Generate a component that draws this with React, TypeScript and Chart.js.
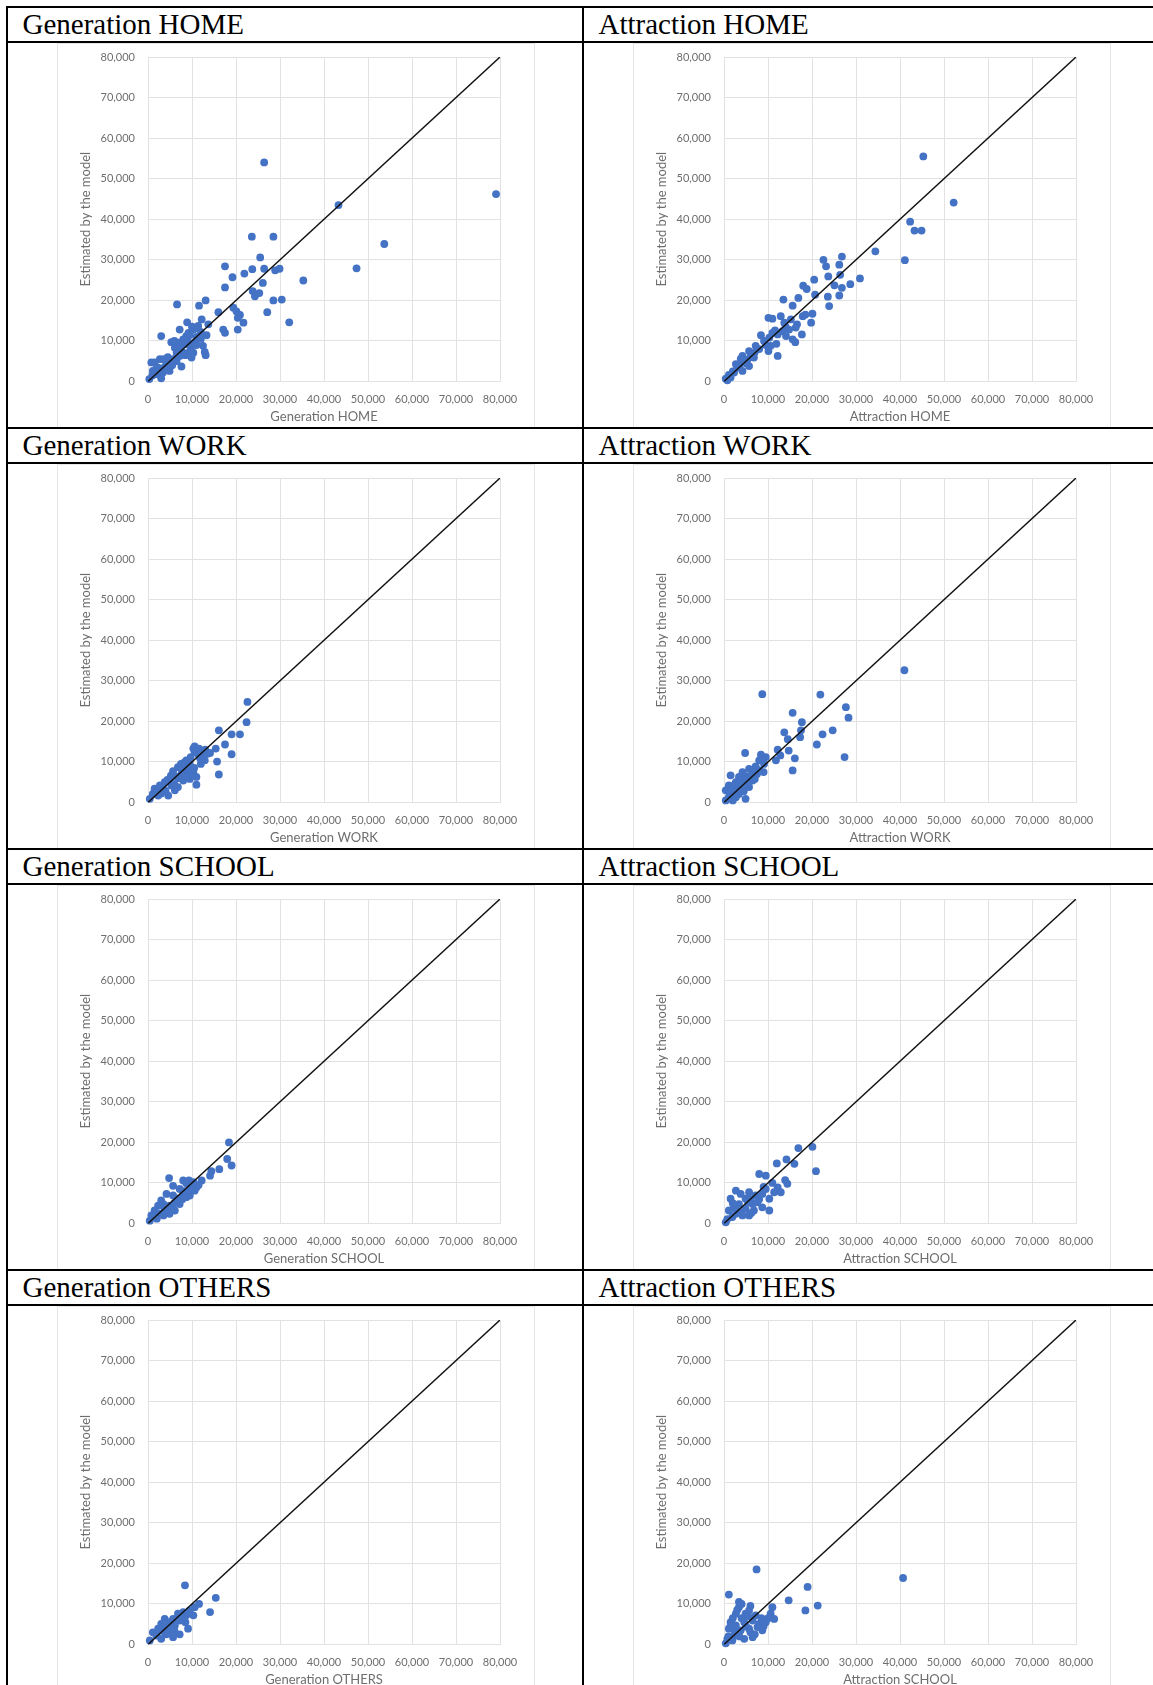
import React, { useEffect, useRef } from "react";
import { Chart, registerables } from "chart.js";

Chart.register(...registerables);

// ---------- data ----------
const tickValues = [0, 10000, 20000, 30000, 40000, 50000, 60000, 70000, 80000];
const diagonal = [0, 80000];

const panelTitles = [
  "Generation HOME", "Attraction HOME",
  "Generation WORK", "Attraction WORK",
  "Generation SCHOOL", "Attraction SCHOOL",
  "Generation OTHERS", "Attraction OTHERS",
];
const xAxisTitles = [
  "Generation HOME", "Attraction HOME",
  "Generation WORK", "Attraction WORK",
  "Generation SCHOOL", "Attraction SCHOOL",
  "Generation OTHERS", "Attraction SCHOOL",
];
const yAxisTitle = "Estimated by the model";

const genHomeObserved = [23600, 28500, 25500, 17500, 23700, 21900, 26400, 28900, 29900, 19200, 35300, 26100, 17500, 23800, 24300, 25300, 28500, 30400, 6600, 11600, 13100, 16000, 19400, 20100, 20900, 27100, 20400, 21700, 32100, 8900, 12200, 13700, 11400, 10300, 7200, 8700, 17100, 17500, 20400, 3000, 13300, 5300, 6800, 8000, 7100, 8400, 9500, 10600, 6100, 12500, 12900, 13100, 10300, 8000, 9900, 7200, 5700, 4200, 2700, 760, 1500, 4900, 7600, 3000, 300, 1100, 2300, 3400, 26400, 43300, 79100, 53700, 47400, 9000, 11000, 7500, 9800, 5000, 6500, 2000, 3800, 12000, 10500, 9200, 4000, 5500, 6500, 8500, 9500, 11000, 12000, 9500, 6000, 2000, 1000, 3500, 4500, 10000];
const genHomeEstimated = [35700, 35700, 30600, 28400, 27700, 26600, 27800, 27400, 27800, 25700, 24900, 24300, 23200, 22300, 21000, 21800, 20000, 20200, 19000, 18700, 20000, 17100, 18200, 17300, 16400, 17100, 15700, 14500, 14600, 14600, 15300, 14100, 13700, 12800, 12800, 11200, 12800, 12000, 12800, 11200, 11400, 9700, 9600, 10400, 8300, 9200, 9200, 9600, 8300, 8800, 7300, 6500, 7100, 7100, 5900, 6300, 5500, 4700, 5500, 4700, 4700, 2600, 3700, 800, 600, 2600, 3400, 2200, 54000, 43500, 46200, 33900, 27900, 10500, 11000, 9000, 8000, 5000, 7000, 1800, 3600, 12200, 13000, 12000, 3000, 4000, 5000, 6500, 7500, 9000, 10500, 11500, 10000, 3500, 1500, 5500, 6000, 13500];

const attrHomeObserved = [34400, 22600, 26800, 23200, 26200, 20500, 23700, 26400, 30900, 18000, 18800, 25100, 26800, 28700, 20700, 23600, 26200, 23900, 13500, 16900, 15600, 10100, 12900, 11000, 13700, 15200, 16600, 17900, 20100, 18500, 19800, 16300, 14800, 13300, 11600, 17700, 16200, 15600, 14100, 12200, 8400, 10300, 9100, 11900, 10100, 12200, 10600, 7200, 5700, 6300, 4200, 3800, 4600, 2700, 5300, 3000, 4200, 2300, 1100, 400, 760, 5700, 6800, 45300, 52200, 42300, 43300, 44900, 41100, 8000, 9500, 7000, 6000, 5000, 3500, 2000, 1500, 11000, 14000];
const attrHomeEstimated = [32100, 30000, 30800, 28400, 28800, 25100, 25900, 26300, 25400, 23600, 22800, 23700, 23100, 24000, 21400, 20900, 21200, 18600, 20200, 20600, 18700, 15700, 16100, 15500, 14500, 15300, 14100, 16100, 16700, 16500, 14500, 13300, 12800, 12400, 12600, 11600, 9700, 10400, 11200, 11600, 11400, 10800, 10000, 9300, 7500, 6300, 8800, 8800, 7500, 6700, 6300, 5600, 4800, 4300, 5300, 3400, 2600, 2200, 1600, 700, 300, 3800, 5900, 55500, 44100, 39400, 37200, 37200, 29900, 8000, 9000, 7200, 6000, 4500, 4000, 2500, 1000, 12000, 13500];

const genWorkObserved = [22600, 22400, 16100, 19000, 20900, 17500, 10600, 11600, 10600, 14100, 15400, 19000, 9700, 11800, 8700, 9500, 15700, 8000, 6800, 5700, 9100, 10300, 7600, 16100, 11000, 9500, 6500, 4900, 3800, 8000, 11000, 2700, 5300, 6800, 1500, 3800, 1100, 4600, 2300, 400, 3000, 6100, 9100, 12900, 10300, 2000, 3300, 4400, 5200, 7200, 8200, 12500, 13000, 6000, 7000, 8500, 9500, 10500, 12000, 11500, 13500, 4000, 3000, 7500];
const genWorkEstimated = [24800, 19800, 17800, 16800, 16800, 14300, 13800, 13300, 12400, 12200, 13300, 11900, 11200, 11000, 10400, 9500, 10100, 8300, 8700, 7700, 8100, 7500, 7100, 6900, 6300, 5800, 6300, 5400, 5000, 5400, 4400, 4200, 4200, 3800, 3400, 3000, 2100, 1700, 1700, 900, 3000, 3000, 6700, 10400, 13300, 2600, 3800, 5600, 6600, 8800, 9800, 11800, 13000, 4500, 6000, 6500, 7200, 8500, 9500, 11800, 12000, 2800, 2200, 9500];

const attrWorkObserved = [8700, 21900, 27700, 28300, 15600, 17700, 17500, 17300, 13700, 14500, 24700, 22400, 21100, 27400, 16100, 15600, 14700, 12200, 12800, 11800, 4800, 8400, 9100, 7200, 5700, 6500, 4200, 1500, 3400, 4900, 2700, 1100, 3800, 5700, 400, 1900, 3400, 1100, 400, 4900, 6500, 2300, 2700, 8000, 9500, 41000, 3000, 5000, 7500, 2000, 1500, 2500, 3500, 5000, 6000, 7000, 8000, 9000, 1500, 2000, 4500];
const attrWorkEstimated = [26700, 26600, 23500, 20900, 22100, 19800, 17800, 16100, 17300, 15600, 17800, 16800, 14300, 11200, 10900, 7900, 12800, 13000, 11600, 10400, 12200, 11800, 9500, 8900, 8300, 7500, 7500, 6700, 6300, 5800, 5000, 4200, 4200, 3800, 3000, 2600, 2100, 1300, 500, 900, 5400, 3800, 1300, 10400, 11200, 32600, 3500, 6500, 7000, 1500, 2200, 4500, 5000, 4500, 6500, 5800, 8000, 7500, 3500, 500, 2800];

const genSchoolObserved = [18400, 18000, 19000, 16200, 14400, 14100, 12200, 4800, 8000, 8700, 9300, 5700, 7200, 9500, 10600, 11000, 4200, 5700, 8000, 8700, 6500, 3000, 2300, 4900, 7200, 3800, 1500, 2700, 760, 4900, 400, 6100, 9500, 10300, 2000, 3500, 6000, 7800, 11500, 5200, 6800, 8200, 9800, 3500, 4500, 1200];
const genSchoolEstimated = [20000, 15900, 14300, 13400, 12900, 11800, 10600, 11200, 10600, 9900, 10600, 9300, 8500, 9100, 8100, 8900, 7300, 6900, 7300, 6500, 5700, 5700, 4400, 4400, 4800, 3600, 3200, 2400, 2000, 2400, 700, 3200, 6900, 10200, 1200, 2000, 5000, 6000, 9500, 3400, 6200, 8000, 8300, 4800, 2800, 1800];

const attrSchoolObserved = [16900, 20100, 12000, 14200, 16000, 20900, 8000, 9500, 13900, 14400, 12200, 11400, 12900, 10300, 10300, 2700, 3800, 5700, 7200, 8700, 4900, 1500, 7600, 6500, 3400, 4900, 2300, 1100, 6800, 2700, 4200, 760, 400, 5700, 8700, 1900, 9500, 11000, 6000, 3000, 5500, 8000, 9000, 2000, 3800, 6200];
const attrSchoolEstimated = [18600, 18900, 14800, 15800, 14700, 12900, 12200, 11800, 10700, 9800, 8900, 7700, 7700, 6100, 3200, 8100, 7300, 7700, 6900, 7300, 6100, 6100, 5200, 4800, 4800, 3600, 4000, 3200, 3200, 2400, 2000, 1100, 300, 2000, 4000, 1600, 8500, 10000, 6000, 3000, 5200, 6000, 9000, 5000, 2800, 2600];

const genOthersObserved = [8400, 15400, 14100, 11600, 10600, 9500, 8000, 6800, 8700, 5700, 7200, 3800, 3000, 4600, 6100, 9100, 2300, 1100, 3800, 7200, 5700, 1900, 400, 3000, 4900, 10300, 2000, 3500, 5000, 6500, 7500, 9000, 4200, 2800, 6000, 8500];
const genOthersEstimated = [14600, 11500, 8000, 10000, 9200, 8400, 8000, 7600, 7200, 6300, 5900, 6300, 5100, 4700, 4700, 3900, 3900, 3000, 3000, 2500, 1800, 2200, 1000, 1400, 3500, 7200, 3000, 4200, 5500, 6000, 6800, 7800, 2500, 3400, 3500, 5500];

const attrOthersObserved = [7400, 19000, 14700, 21300, 18500, 1100, 3400, 3400, 5700, 2700, 11000, 10600, 11400, 9500, 8000, 6500, 1500, 4600, 2700, 1100, 5700, 3800, 8700, 6500, 2300, 760, 400, 4600, 1900, 7600, 7200, 4900, 40700, 2000, 3000, 4000, 5000, 6000, 7000, 2500, 3500, 1500, 9000, 10000, 8500, 5500, 1000, 4000, 6000];
const attrOthersEstimated = [18500, 14200, 10900, 9600, 8400, 12300, 10500, 9200, 8400, 7600, 9200, 7600, 6300, 5500, 5100, 5900, 5500, 5500, 4700, 3900, 3900, 3500, 3500, 1800, 2200, 1400, 300, 1400, 1000, 4300, 7200, 7600, 16400, 6500, 8500, 6500, 4500, 3000, 2500, 3000, 2000, 4500, 4500, 6500, 6500, 7000, 2000, 10000, 9500];

const observedSeries = [genHomeObserved, attrHomeObserved, genWorkObserved, attrWorkObserved, genSchoolObserved, attrSchoolObserved, genOthersObserved, attrOthersObserved];
const estimatedSeries = [genHomeEstimated, attrHomeEstimated, genWorkEstimated, attrWorkEstimated, genSchoolEstimated, attrSchoolEstimated, genOthersEstimated, attrOthersEstimated];

// ---------- layout ----------
const TABLE_LEFT = 7;
const TABLE_TOP = 7;
const COL_W = 576;
const ROW_H = 421;
const TITLE_H = 35;
const CANVAS_W = 478;
const CANVAS_H = 385;

const TICK_COLOR = "#6e6e6e";
const GRID_COLOR = "#e2e2e2";
const FONT_FAMILY = "Lato, 'Open Sans', sans-serif";

function Panel(props: { left: number; top: number; observed: number[]; estimated: number[]; xTitle: string }) {
  const ref = useRef<HTMLCanvasElement | null>(null);
  useEffect(() => {
    if (!ref.current) return;
    const points = props.observed.map((x, i) => ({ x, y: props.estimated[i] }));
    const linePts = diagonal.map((v) => ({ x: v, y: v }));
    const fmt = (v: any) => Number(v).toLocaleString("en-US");
    const chart = new Chart(ref.current, {
      type: "scatter",
      data: {
        datasets: [
          {
            type: "line",
            data: linePts,
            borderColor: "#111111",
            borderWidth: 1.4,
            pointRadius: 0,
            fill: false,
            tension: 0,
            order: 0,
          } as any,
          {
            type: "scatter",
            data: points,
            backgroundColor: "#4472C4",
            borderColor: "#4472C4",
            borderWidth: 0,
            pointRadius: 3.9,
            clip: false,
            order: 1,
          } as any,
        ],
      },
      options: {
        animation: false,
        responsive: false,
        devicePixelRatio: 1,
        layout: { padding: { left: 0, top: 14, right: 35, bottom: 0 } },
        plugins: { legend: { display: false }, tooltip: { enabled: false } },
        scales: {
          x: {
            type: "linear",
            min: tickValues[0],
            max: tickValues[tickValues.length - 1],
            afterBuildTicks: (scale: any) => {
              scale.ticks = tickValues.map((v) => ({ value: v }));
            },
            afterFit: (scale: any) => {
              scale.height = 46.5;
            },
            grid: { color: GRID_COLOR, lineWidth: 1, drawTicks: false },
            border: { display: false },
            ticks: {
              padding: 11,
              color: TICK_COLOR,
              font: { family: FONT_FAMILY, size: 11 },
              callback: fmt,
              maxRotation: 0,
              autoSkip: false,
            },
            title: {
              display: true,
              text: props.xTitle,
              color: TICK_COLOR,
              font: { family: FONT_FAMILY, size: 13 },
              padding: { top: 0, bottom: 3 },
            },
          },
          y: {
            type: "linear",
            min: tickValues[0],
            max: tickValues[tickValues.length - 1],
            afterBuildTicks: (scale: any) => {
              scale.ticks = tickValues.map((v) => ({ value: v }));
            },
            afterFit: (scale: any) => {
              scale.width = 91;
              scale.paddingTop = 0;
              scale.paddingBottom = 0;
            },
            grid: { color: GRID_COLOR, lineWidth: 1, drawTicks: false },
            border: { display: false },
            ticks: {
              padding: 13,
              color: TICK_COLOR,
              font: { family: FONT_FAMILY, size: 11 },
              callback: fmt,
              autoSkip: false,
            },
            title: {
              display: true,
              text: yAxisTitle,
              color: TICK_COLOR,
              font: { family: FONT_FAMILY, size: 13 },
              padding: { top: 21, bottom: 0 },
            },
          },
        },
      } as any,
    });
    return () => chart.destroy();
  }, []);
  return (
    <>
      <canvas
        ref={ref}
        width={CANVAS_W}
        height={CANVAS_H}
        style={{ position: "absolute", left: props.left, top: props.top, width: CANVAS_W, height: CANVAS_H }}
      />
      <div
        style={{
          position: "absolute",
          left: props.left,
          top: props.top,
          width: CANVAS_W,
          height: CANVAS_H,
          boxSizing: "border-box",
          border: "1px solid #e6e6e6",
          pointerEvents: "none",
        }}
      />
    </>
  );
}

export default function App() {
  const rows = [0, 1, 2, 3];
  const cols = [0, 1];
  const lines: React.ReactNode[] = [];
  rows.forEach((r) => {
    const top = TABLE_TOP + r * ROW_H;
    lines.push(
      <div key={"h" + r} style={{ position: "absolute", left: TABLE_LEFT - 1, top: top - 1, width: 1153, height: 2, background: "#000" }} />
    );
    lines.push(
      <div key={"t" + r} style={{ position: "absolute", left: TABLE_LEFT - 1, top: top + TITLE_H - 1, width: 1153, height: 2, background: "#000" }} />
    );
  });
  lines.push(<div key="v0" style={{ position: "absolute", left: TABLE_LEFT - 1, top: TABLE_TOP - 1, width: 2, height: 1700, background: "#000" }} />);
  lines.push(<div key="v1" style={{ position: "absolute", left: TABLE_LEFT + COL_W - 1, top: TABLE_TOP - 1, width: 2, height: 1700, background: "#000" }} />);

  return (
    <div style={{ position: "absolute", left: 0, top: 0, width: 1153, height: 1685, overflow: "hidden", background: "#fff" }}>
      {rows.map((r) =>
        cols.map((c) => {
          const idx = r * 2 + c;
          const cellLeft = TABLE_LEFT + c * COL_W;
          const rowTop = TABLE_TOP + r * ROW_H;
          return (
            <React.Fragment key={idx}>
              <div
                style={{
                  position: "absolute",
                  left: cellLeft + 15.5,
                  top: rowTop + 1,
                  height: 34,
                  lineHeight: "32px",
                  fontFamily: "'Liberation Serif', 'Times New Roman', serif",
                  fontSize: 29,
                  color: "#000",
                  whiteSpace: "nowrap",
                }}
              >
                {panelTitles[idx]}
              </div>
              <Panel
                left={cellLeft + 50}
                top={rowTop + 36}
                observed={observedSeries[idx]}
                estimated={estimatedSeries[idx]}
                xTitle={xAxisTitles[idx]}
              />
            </React.Fragment>
          );
        })
      )}
      {lines}
    </div>
  );
}
